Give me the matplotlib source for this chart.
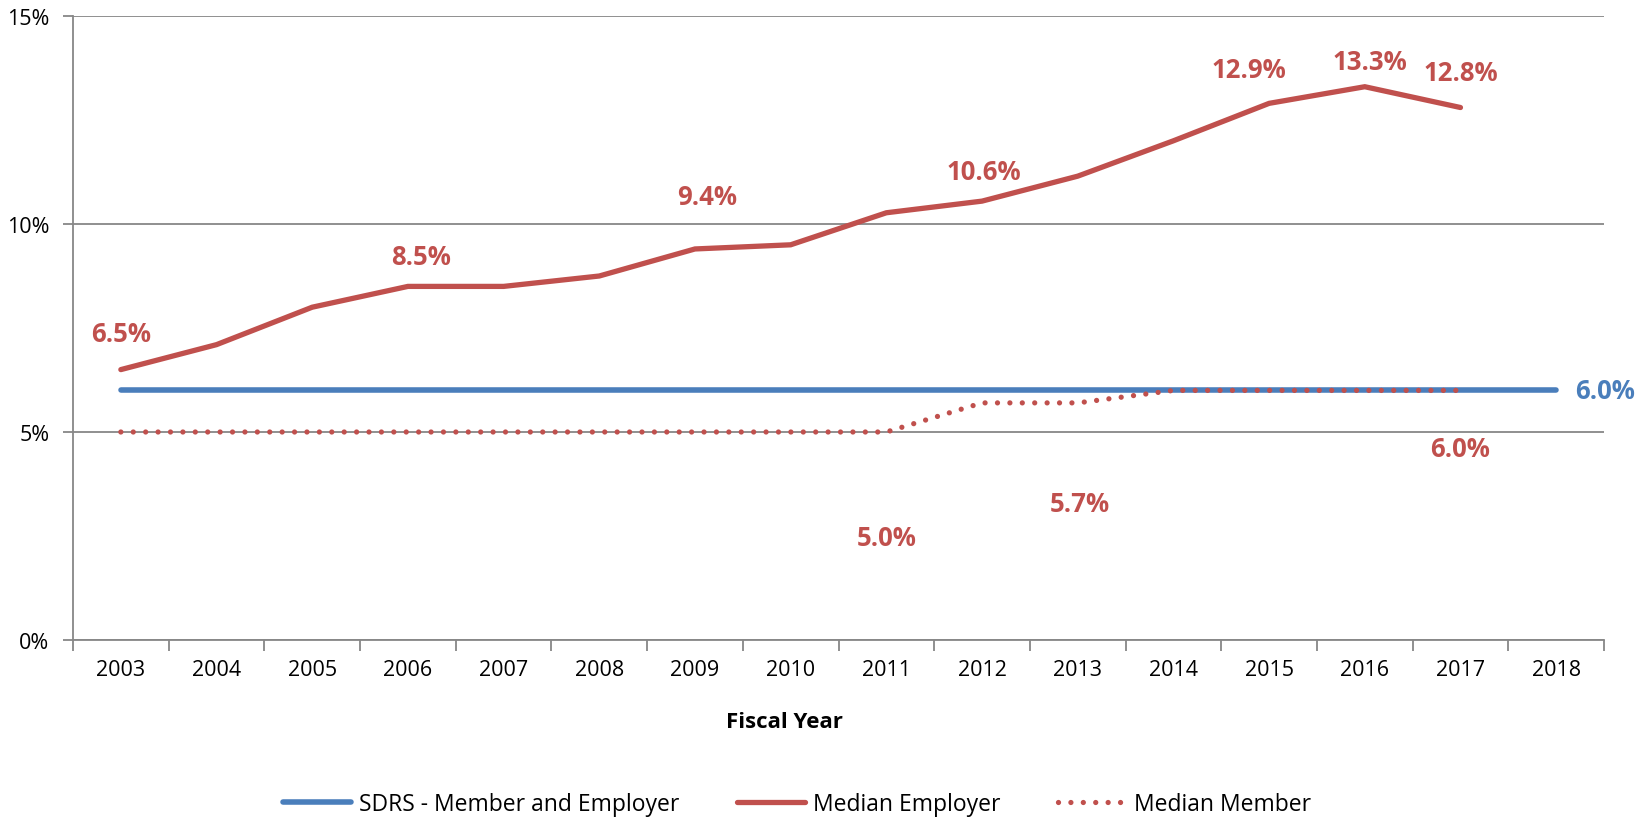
import matplotlib
matplotlib.use("Agg")
import matplotlib.pyplot as plt
import numpy as np

plt.rcParams['font.family'] = ['Open Sans', 'DejaVu Sans']

years = ['2003', '2004', '2005', '2006', '2007', '2008', '2009', '2010',
         '2011', '2012', '2013', '2014', '2015', '2016', '2017', '2018']
sdrs = [6.0] * 16
median_employer = [6.5, 7.1, 8.0, 8.5, 8.5, 8.75, 9.4, 9.5, 10.27, 10.55,
                   11.15, 12.0, 12.9, 13.3, 12.8]
median_member = [5.0, 5.0, 5.0, 5.0, 5.0, 5.0, 5.0, 5.0, 5.0, 5.7, 5.7,
                 6.0, 6.0, 6.0, 6.0]
y_ticks = [0, 5, 10, 15]
y_tick_labels = ['0%', '5%', '10%', '15%']

BLUE = '#4A7EBB'
RED = '#C0504D'
GRID = '#878787'

fig = plt.figure(figsize=(16.5, 8.2), dpi=100)
ax = fig.add_axes([73/1650, 1-641/820, 1531/1650, 624/820])

x_all = np.arange(len(years))
ax.plot(x_all, sdrs, color=BLUE, lw=4.0, solid_capstyle='round',
        label='SDRS - Member and Employer', zorder=3)
ax.plot(x_all[:len(median_employer)], median_employer, color=RED, lw=3.8,
        solid_capstyle='round', solid_joinstyle='miter', label='Median Employer', zorder=4)
ax.plot(x_all[:len(median_member)], median_member, color=RED, lw=3.8,
        linestyle=(0, (0.001, 2.35)), dash_capstyle='round',
        label='Median Member', zorder=5)

ax.set_xlim(-0.5, len(years) - 0.5)
ax.set_ylim(0, 15)
ax.set_yticks(y_ticks)
ax.set_yticklabels(y_tick_labels)
ax.set_xticks(x_all)
ax.set_xticklabels(years)
ax.set_xticks(np.arange(-0.5, len(years)), minor=True)
ax.tick_params(axis='x', which='major', length=0, pad=14, labelsize=15.5, colors='black')
ax.tick_params(axis='x', which='minor', length=8, width=1.3, color=GRID)
ax.tick_params(axis='y', which='major', length=7, width=1.3, color=GRID, pad=10,
               labelsize=15.5, labelcolor='black')

ax.grid(axis='y', color=GRID, lw=1.3, zorder=0)
ax.set_axisbelow(True)
for s in ['top', 'right']:
    ax.spines[s].set_visible(False)
for s in ['left', 'bottom']:
    ax.spines[s].set_color(GRID)
    ax.spines[s].set_linewidth(1.3)

ax.set_xlabel('Fiscal Year', fontsize=16, fontweight='bold')
ax.xaxis.set_label_coords(0.465, -0.13)
ax.xaxis.label.set_verticalalignment('center')

px = 0.72
labels_emp = [(0, '6.5%', 0, 36), (3, '8.5%', 13, 30), (6, '9.4%', 12, 52),
              (9, '10.6%', 2, 30), (12, '12.9%', -20, 34), (13, '13.3%', 5, 25),
              (14, '12.8%', 0, 35)]
for i, t, dx, dy in labels_emp:
    ax.annotate(t, (x_all[i], median_employer[i]), xytext=(dx*px, dy*px),
                textcoords='offset points', ha='center', va='center',
                fontsize=18.5, fontweight='bold', color=RED, zorder=6)
labels_mem = [(8, '5.0%', 0, -105), (10, '5.7%', 2, -101), (14, '6.0%', 0, -58)]
for i, t, dx, dy in labels_mem:
    ax.annotate(t, (x_all[i], median_member[i]), xytext=(dx*px, dy*px),
                textcoords='offset points', ha='center', va='center',
                fontsize=18.5, fontweight='bold', color=RED, zorder=6)
ax.annotate('6.0%', (x_all[-1], sdrs[-1]), xytext=(19*px, 0),
            textcoords='offset points', ha='left', va='center',
            fontsize=18.5, fontweight='bold', color=BLUE, zorder=6, annotation_clip=False)

fig.legend(loc='center', bbox_to_anchor=(797/1650, 1-805/820), ncol=3,
           frameon=False, fontsize=16.5, handlelength=2.97, handletextpad=0.35,
           columnspacing=2.5)

fig.savefig('out.png', dpi=100)
